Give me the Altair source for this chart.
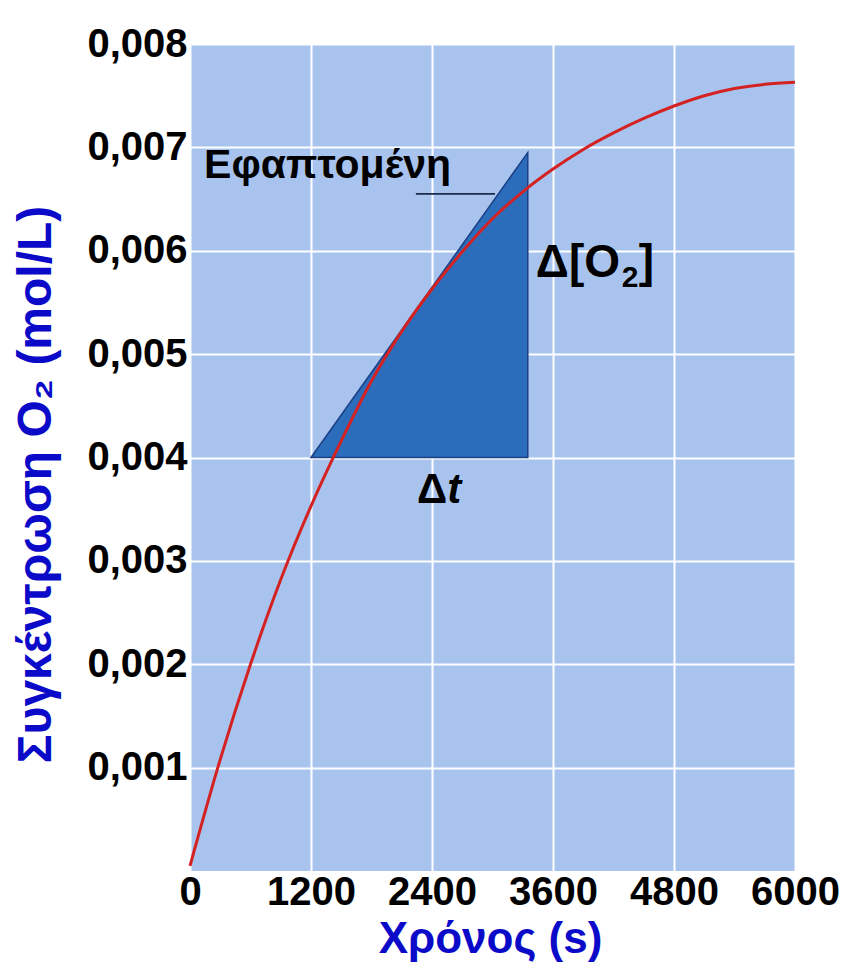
import altair as alt
import pandas as pd

# ---- data ----
time_s = [0, 300, 600, 900, 1200, 1500, 1800, 2100, 2400, 2700, 3000, 3300, 3600,
          3900, 4200, 4500, 4800, 5100, 5400, 5700, 6000]
o2_conc = [0.00005, 0.00108, 0.00200, 0.00282, 0.00353, 0.00416, 0.00474, 0.00522,
           0.00563, 0.00599, 0.00631, 0.00657, 0.00679, 0.00698, 0.00714, 0.00728,
           0.00740, 0.00750, 0.00757, 0.00761, 0.00763]

# tangent triangle (hypotenuse = tangent line)
tri_t = [1200, 3350]
tri_c = [0.00400, 0.00695]
tri_base = [0.00400, 0.00400]

# leader line from the "Εφαπτομένη" label to the tangent
leader_t = [2240, 3025]
leader_c = [0.00655, 0.00655]

# annotation texts and anchors (data coordinates)
ann_text = ["Εφαπτομένη", "Δ[O", "2", "]", "Δ", "t"]
ann_t = [140, 3430, 3430, 3430, 2550, 2550]
ann_c = [0.00670, 0.00575, 0.00575, 0.00575, 0.00356, 0.00356]

x_ticks = [0, 1200, 2400, 3600, 4800, 6000]
y_ticks = [0.001, 0.002, 0.003, 0.004, 0.005, 0.006, 0.007, 0.008]

x_title = "Χρόνος (s)"
y_title = "Συγκέντρωση O₂ (mol/L)"

FONT = "Liberation Sans"

curve_df = pd.DataFrame({"t": time_s, "c": o2_conc})
tri_df = pd.DataFrame({"t": tri_t, "c": tri_c, "base": tri_base})
leader_df = pd.DataFrame({"t": leader_t, "c": leader_c})
ann_df = pd.DataFrame({"label": ann_text, "t": ann_t, "c": ann_c})

xscale = alt.Scale(domain=[0, 6000], nice=False, zero=False)
yscale = alt.Scale(domain=[0, 0.008], nice=False, zero=False)

x_axis = alt.Axis(
    values=x_ticks, format="d", title=x_title,
    labelFontSize=40, labelFont=FONT, labelFontWeight="bold", labelColor="black",
    labelPadding=1, labelFlush=False, labelOverlap=False,
    titleFontSize=44, titleFont=FONT, titleFontWeight="bold", titleColor="#0a0ac8",
    titleX=300, titleY=81, titleBaseline="alphabetic", titleAlign="center",
)
y_axis = alt.Axis(
    values=y_ticks, title=y_title,
    labelExpr="replace(format(datum.value, '.3f'), '.', ',')",
    labelFontSize=40, labelFont=FONT, labelFontWeight="bold", labelColor="black",
    labelPadding=3, labelFlush=False, labelOverlap=False,
    titleFontSize=48, titleFont=FONT, titleFontWeight="bold", titleColor="#0a0ac8",
    titleX=-140, titleY=440, titleBaseline="alphabetic", titleAlign="center",
)

base_axes = alt.Chart(curve_df).mark_line(opacity=0).encode(
    x=alt.X("t:Q", scale=xscale, axis=x_axis),
    y=alt.Y("c:Q", scale=yscale, axis=y_axis),
)

triangle = alt.Chart(tri_df).mark_area(
    color="#2b6cbb", opacity=1, stroke="#1b3f85", strokeWidth=1.5, interpolate="linear"
).encode(
    x=alt.X("t:Q", scale=xscale),
    y=alt.Y("c:Q", scale=yscale),
    y2="base:Q",
)

leader = alt.Chart(leader_df).mark_line(color="#1a2a4a", strokeWidth=1.8).encode(
    x=alt.X("t:Q", scale=xscale),
    y=alt.Y("c:Q", scale=yscale),
)

curve = alt.Chart(curve_df).mark_line(
    color="#d42222", strokeWidth=3, interpolate="monotone"
).encode(
    x=alt.X("t:Q", scale=xscale),
    y=alt.Y("c:Q", scale=yscale),
)

def ann(i, size, align, style="normal", dx=0, dy=0):
    return alt.Chart(ann_df.iloc[[i]]).mark_text(
        font=FONT, fontSize=size, fontWeight="bold", fontStyle=style,
        color="black", align=align, baseline="alphabetic", dx=dx, dy=dy,
    ).encode(
        x=alt.X("t:Q", scale=xscale),
        y=alt.Y("c:Q", scale=yscale),
        text="label:N",
    )

chart = alt.layer(
    base_axes,
    triangle,
    leader,
    curve,
    ann(0, 41, "left"),
    ann(1, 46, "left"),
    ann(2, 30, "left", dx=86, dy=10),
    ann(3, 46, "left", dx=103),
    ann(4, 42, "right"),
    ann(5, 42, "left", "italic"),
).properties(
    width=605,
    height=827,
    background="white",
    autosize=alt.AutoSizeParams(type="none"),
    padding={"left": 182, "top": 36, "right": 49, "bottom": 92},
).configure_view(
    fill="#a8c4ee", stroke=None
).configure_axis(
    grid=True, gridColor="white", gridWidth=2, gridOpacity=1,
    domain=False, ticks=False, tickSize=0,
)

chart.save("out.html", embed_options={"renderer": "svg", "actions": False})
